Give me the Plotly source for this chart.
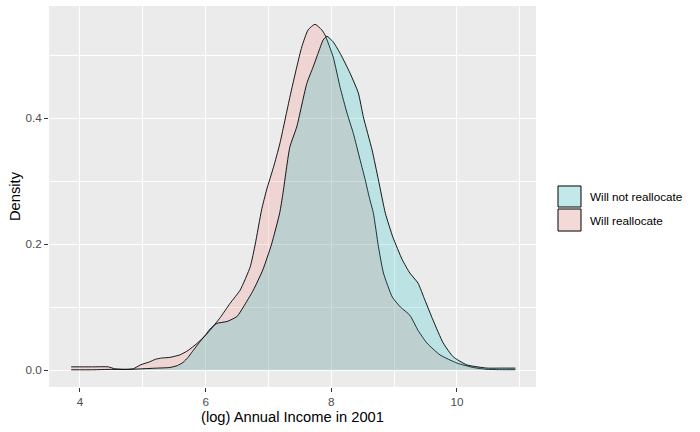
import plotly.graph_objects as go

# ---- data ----
group_names = ["Will not reallocate", "Will reallocate"]

realloc_x = [3.86, 4.0, 4.2, 4.45, 4.55, 4.7, 4.85, 4.96, 5.11, 5.2, 5.3, 5.43, 5.59, 5.72,
             5.86, 6.0, 6.07, 6.23, 6.39, 6.55, 6.71, 6.79, 6.89, 6.97, 7.08, 7.18, 7.34,
             7.45, 7.53, 7.63, 7.74, 7.85, 7.9, 8.03, 8.14, 8.25, 8.35, 8.46, 8.54, 8.6,
             8.67, 8.75, 8.83, 8.97, 9.1, 9.25, 9.38, 9.52, 9.73, 10.0, 10.26, 10.48, 10.7, 10.93]
realloc_y = [0.005, 0.005, 0.005, 0.005, 0.002, 0.001, 0.002, 0.008, 0.013, 0.017, 0.019, 0.020,
             0.024, 0.031, 0.042, 0.055, 0.063, 0.083, 0.106, 0.127, 0.164, 0.200, 0.254, 0.286,
             0.322, 0.359, 0.433, 0.481, 0.513, 0.540, 0.549, 0.540, 0.532, 0.497, 0.449, 0.408,
             0.376, 0.333, 0.302, 0.276, 0.249, 0.196, 0.154, 0.116, 0.100, 0.087, 0.063, 0.043,
             0.024, 0.011, 0.004, 0.001, 0.0005, 0.0005]

notrealloc_x = [3.86, 4.2, 4.48, 4.6, 4.8, 5.0, 5.23, 5.43, 5.55, 5.64, 5.72, 5.78, 5.91, 6.0, 6.07,
                6.18, 6.34, 6.5, 6.6, 6.76, 6.91, 7.05, 7.18, 7.23, 7.34, 7.45, 7.61, 7.71, 7.79,
                7.87, 7.93, 8.03, 8.14, 8.3, 8.43, 8.51, 8.65, 8.75, 8.86, 8.98, 9.13, 9.25, 9.38,
                9.49, 9.62, 9.78, 9.94, 10.16, 10.48, 10.7, 10.93]
notrealloc_y = [0.0003, 0.0003, 0.001, 0.001, 0.001, 0.002, 0.003, 0.004, 0.007, 0.012, 0.020, 0.028,
                0.045, 0.056, 0.065, 0.074, 0.077, 0.085, 0.100, 0.127, 0.159, 0.200, 0.250, 0.280,
                0.354, 0.386, 0.455, 0.481, 0.503, 0.524, 0.530, 0.521, 0.503, 0.471, 0.440, 0.402,
                0.349, 0.302, 0.249, 0.211, 0.175, 0.154, 0.138, 0.111, 0.079, 0.043, 0.021, 0.008,
                0.003, 0.003, 0.003]

x_ticks = [4, 6, 8, 10]
y_ticks = [0.0, 0.2, 0.4]
y_tick_labels = ["0.0", "0.2", "0.4"]

fill_colors = {"Will not reallocate": "rgba(0,191,196,0.2)", "Will reallocate": "rgba(248,118,109,0.2)"}
key_colors = {"Will not reallocate": "#C2E8E9", "Will reallocate": "#F3D9D7"}

FONT = "Liberation Sans, Arial, sans-serif"

fig = go.Figure()


def add_density(xs, ys, name):
    fig.add_trace(go.Scatter(x=list(xs), y=list(ys), mode="lines", fill="tozeroy",
                             fillcolor=fill_colors[name],
                             line=dict(color="black", width=0.9, shape="spline", smoothing=0.5),
                             name=name, showlegend=False, hoverinfo="skip"))


add_density(realloc_x, realloc_y, "Will reallocate")
add_density(notrealloc_x, notrealloc_y, "Will not reallocate")

fig.update_layout(
    width=700, height=432,
    margin=dict(l=49, r=164, t=6, b=45),
    paper_bgcolor="white",
    plot_bgcolor="#EBEBEB",
    font=dict(family=FONT, color="#4D4D4D", size=11.7),
    showlegend=False,
)

fig.update_xaxes(
    range=[3.507, 11.258], tickvals=x_ticks, ticktext=[str(v) for v in x_ticks],
    showgrid=True, gridcolor="white", gridwidth=1.1, zeroline=False,
    minor=dict(dtick=1, tick0=0, showgrid=True, gridcolor="white", gridwidth=0.5, ticks=""),
    ticks="outside", ticklen=4, tickwidth=1, tickcolor="#333333",
    tickfont=dict(family=FONT, size=11.7, color="#4D4D4D"),
    title=dict(text="(log) Annual Income in 2001", font=dict(family=FONT, size=14.7, color="black"),
               standoff=4),
    showline=False,
)
fig.update_yaxes(
    range=[-0.027, 0.578], tickvals=y_ticks, ticktext=y_tick_labels,
    showgrid=True, gridcolor="white", gridwidth=1.1, zeroline=False,
    minor=dict(dtick=0.1, tick0=0, showgrid=True, gridcolor="white", gridwidth=0.5, ticks=""),
    ticks="outside", ticklen=4, tickwidth=1, tickcolor="#333333",
    tickfont=dict(family=FONT, size=11.7, color="#4D4D4D"),
    title=dict(text="Density", font=dict(family=FONT, size=14.7, color="black"), standoff=1),
    showline=False,
)

# custom legend (ggplot-like boxes)
legend_rows = [("Will not reallocate", 0.4724, 0.5276), ("Will reallocate", 0.4094, 0.4672)]
for name, y0, y1 in legend_rows:
    fig.add_shape(type="rect", xref="paper", yref="paper", x0=1.0452, x1=1.0924, y0=y0, y1=y1,
                  fillcolor=key_colors[name], line=dict(color="black", width=1))
    fig.add_annotation(xref="paper", yref="paper", x=1.1068, y=(y0 + y1) / 2, text=name,
                       showarrow=False, xanchor="left", yanchor="middle",
                       font=dict(family=FONT, size=11.7, color="black"))

fig.write_html("out.html")
